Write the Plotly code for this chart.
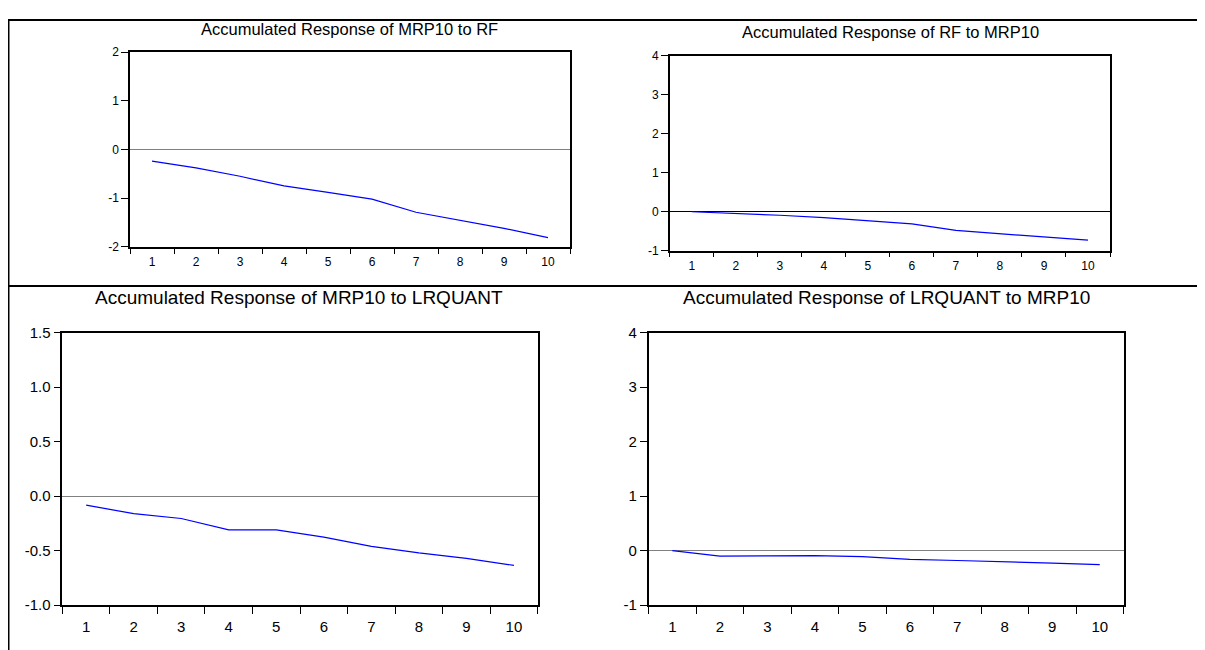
import plotly.graph_objects as go

periods = [1, 2, 3, 4, 5, 6, 7, 8, 9, 10]
minor_ticks = [0.5, 1.5, 2.5, 3.5, 4.5, 5.5, 6.5, 7.5, 8.5, 9.5, 10.5]

mrp10_to_rf = [-0.24, -0.38, -0.55, -0.75, -0.88, -1.02, -1.29, -1.45, -1.62, -1.81]
rf_to_mrp10 = [0.0, -0.04, -0.09, -0.15, -0.23, -0.31, -0.48, -0.56, -0.64, -0.73]
mrp10_to_lrquant = [-0.083, -0.16, -0.205, -0.31, -0.31, -0.375, -0.46, -0.52, -0.57, -0.635]
lrquant_to_mrp10 = [0.0, -0.10, -0.095, -0.09, -0.11, -0.16, -0.18, -0.21, -0.23, -0.255]

titles = ["Accumulated Response of MRP10 to RF",
          "Accumulated Response of RF to MRP10",
          "Accumulated Response of MRP10 to LRQUANT",
          "Accumulated Response of LRQUANT to MRP10"]

ytick_values_a = [-2, -1, 0, 1, 2]
ytick_labels_a = ["-2", "-1", "0", "1", "2"]
ytick_values_b = [-1, 0, 1, 2, 3, 4]
ytick_labels_b = ["-1", "0", "1", "2", "3", "4"]
ytick_values_c = [-1.0, -0.5, 0.0, 0.5, 1.0, 1.5]
ytick_labels_c = ["-1.0", "-0.5", "0.0", "0.5", "1.0", "1.5"]

W, H = 1205, 650
FONT = "Liberation Sans, Arial, sans-serif"

# panel boxes in figure pixels: left, right, top, bottom (page has an 8px body margin)
boxes = [(122, 562, 36, 236), (661.8, 1102, 40, 240), (54.4, 529.7, 324, 604), (640.6, 1115.5, 324, 604)]
title_pos = [(341, 12), (882, 15), (291, 288), (878, 288)]
yranges = [(-2, 2), (-1, 4), (-1, 1.5), (-1, 4)]
ytickvals = [ytick_values_a, ytick_values_b, ytick_values_c, ytick_values_b]
yticktext = [ytick_labels_a, ytick_labels_b, ytick_labels_c, ytick_labels_b]
tick_sizes = [12, 12, 15, 15]
title_sizes = [16.5, 16.5, 19, 19]
xlabel_pad = [3, 3, 7, 7]
xminor_len = [5, 5, 7, 7]
ytick_len = [7, 7, 7, 7]
series = [mrp10_to_rf, rf_to_mrp10, mrp10_to_lrquant, lrquant_to_mrp10]
zero_colors = ["#808080", "#000000", "#808080", "#808080"]

fig = go.Figure()
layout = dict(width=W, height=H, margin=dict(l=0, r=0, t=0, b=0),
              paper_bgcolor="white", plot_bgcolor="white", showlegend=False,
              font=dict(family=FONT, color="black"))
annotations = []
for i in range(4):
    l, r, t, b = boxes[i]
    ax = "" if i == 0 else str(i + 1)
    fig.add_trace(go.Scatter(x=periods, y=series[i], mode="lines",
                             line=dict(color="#0000FF", width=1.2),
                             xaxis="x" + ax, yaxis="y" + ax, hoverinfo="skip"))
    layout["xaxis" + ax] = dict(domain=[l / W, r / W], anchor="y" + ax,
                                range=[0.5, 10.5], tickvals=periods,
                                ticks="outside", ticklen=xlabel_pad[i],
                                tickcolor="rgba(0,0,0,0)",
                                showgrid=False, zeroline=False, showline=True,
                                linecolor="black", linewidth=1.5, mirror=True,
                                tickfont=dict(size=tick_sizes[i], family=FONT, color="black"),
                                minor=dict(tickvals=minor_ticks, ticks="outside",
                                           ticklen=xminor_len[i], tickcolor="black", tickwidth=1,
                                           showgrid=False))
    layout["yaxis" + ax] = dict(domain=[1 - b / H, 1 - t / H], anchor="x" + ax,
                                range=list(yranges[i]), tickvals=ytickvals[i],
                                ticktext=yticktext[i], ticks="outside",
                                ticklen=ytick_len[i], tickcolor="black", showgrid=False,
                                zeroline=True, zerolinecolor=zero_colors[i], zerolinewidth=1,
                                showline=True, linecolor="black", linewidth=1.5, mirror=True,
                                tickfont=dict(size=tick_sizes[i], family=FONT, color="black"))
    tx, ty = title_pos[i]
    annotations.append(dict(text=titles[i], x=tx / W, y=1 - ty / H,
                            xref="paper", yref="paper", xanchor="center",
                            yanchor="middle", showarrow=False,
                            font=dict(size=title_sizes[i], family=FONT, color="black")))

shapes = [
    dict(type="line", xref="paper", yref="paper", x0=0, x1=1, y0=1 - 3 / H, y1=1 - 3 / H,
         line=dict(color="black", width=2)),
    dict(type="line", xref="paper", yref="paper", x0=0, x1=1, y0=1 - 276.3 / H, y1=1 - 276.3 / H,
         line=dict(color="black", width=2)),
    dict(type="line", xref="paper", yref="paper", x0=0.5 / W, x1=0.5 / W, y0=0, y1=1 - 2 / H,
         line=dict(color="black", width=2)),
]
layout["annotations"] = annotations
layout["shapes"] = shapes
fig.update_layout(**layout)
fig.write_html("out.html")
